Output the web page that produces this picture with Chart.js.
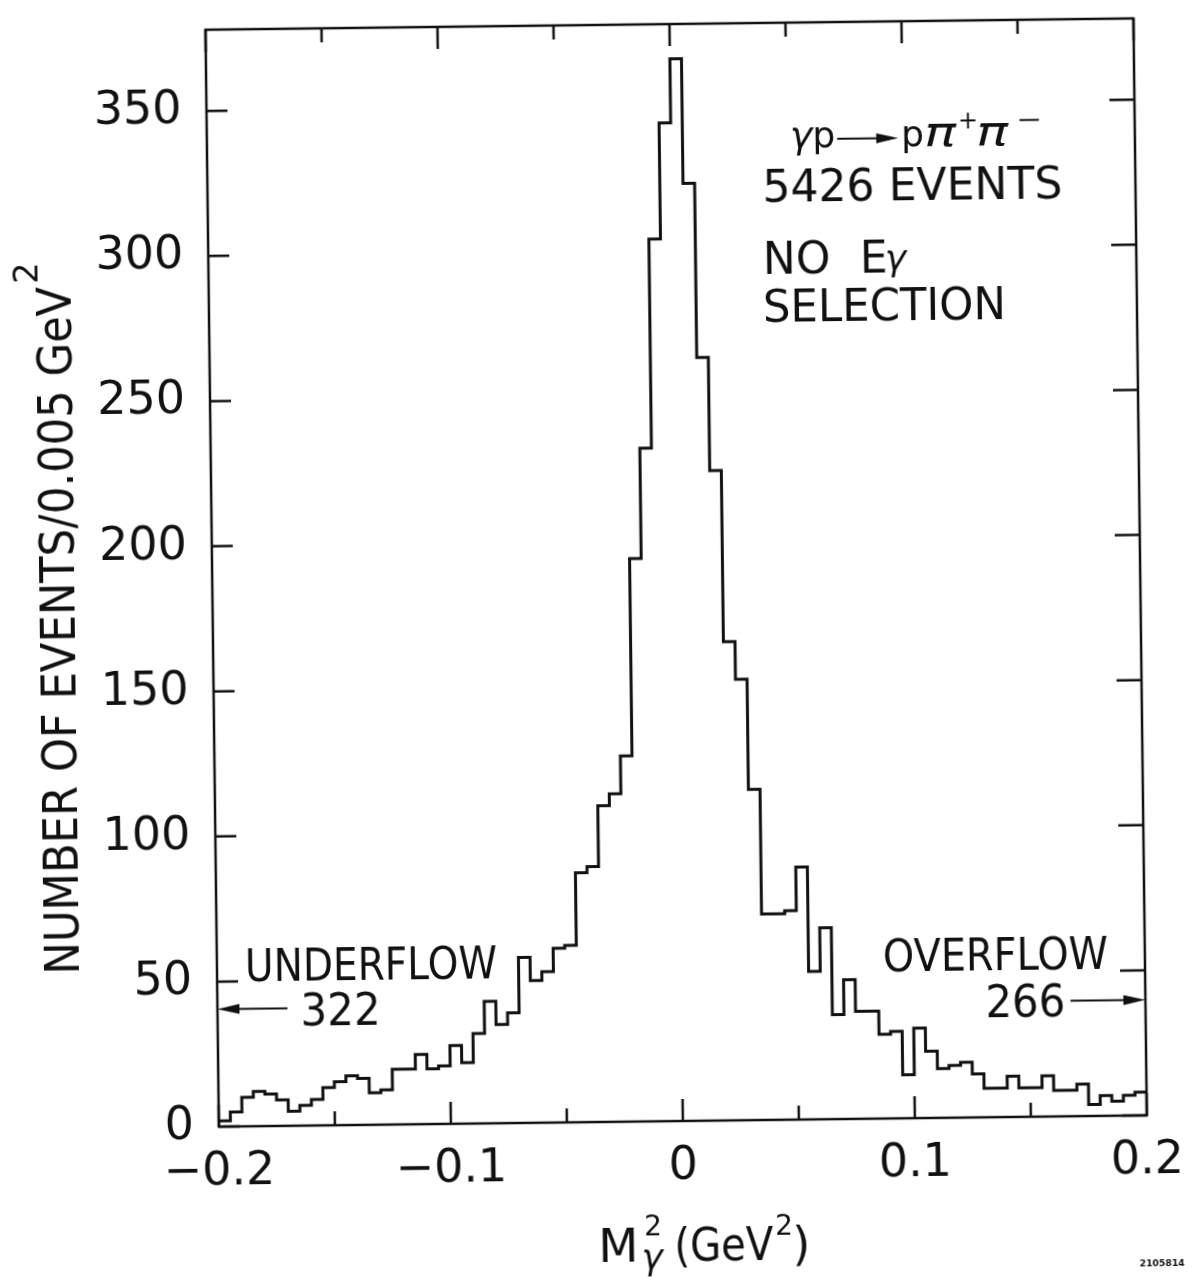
<!DOCTYPE html>
<html>
<head>
<meta charset="utf-8">
<script src="https://cdn.jsdelivr.net/npm/chart.js@4.4.1/dist/chart.umd.min.js"></script>
<style>
  html, body { margin: 0; padding: 0; background: #fff; }
  #sheet { width: 1196px; height: 1284px; transform: rotate(-0.7deg); }
  canvas { display: block; }
</style>
</head>
<body>
<div id="sheet"><canvas id="mm2" width="1196" height="1284"></canvas></div>
<script>
// missing-mass squared histogram, bins of 0.005 GeV^2 from -0.2 to 0.2
const BIN_START = -0.2;
const BIN_WIDTH = 0.005;
const counts = [
  2, 5, 10, 12, 11, 9, 5, 7, 9, 13,
  15, 17, 16, 11, 12, 19, 19, 24, 19, 20,
  27, 21, 31, 42, 34, 38, 57, 49, 52, 60,
  61, 86, 88, 109, 113, 126, 194, 232, 304, 344,
  366, 323, 263, 224, 165, 152, 114, 71, 71, 72,
  87, 51, 66, 36, 48, 37, 37, 29, 30, 15,
  31, 23, 17, 18, 19, 15, 10, 10, 14, 10,
  10, 14, 9, 9, 11, 4, 7, 5, 7, 8
];
const xLabelTicks = [-0.2, -0.1, 0, 0.1, 0.2];
const xMinorTicks = [-0.15, -0.05, 0.05, 0.15];
const yTicks = [0, 50, 100, 150, 200, 250, 300, 350];
const Y_MAX = 378;
const totalEvents = 5426;
const underflow = 322;
const overflow = 266;

const INK = '#111';
const FONT = '"DejaVu Sans", sans-serif';

// left bin edges, plus the closing edge so the last step reaches the frame
const points = counts.map((c, i) => ({ x: BIN_START + i * BIN_WIDTH, y: c }));
points.push({ x: BIN_START + counts.length * BIN_WIDTH, y: counts[counts.length - 1] });

function fmtX(v) {
  if (Math.abs(v) < 1e-9) return '0';
  return (v < 0 ? '\u2212' : '') + Math.abs(v).toFixed(1);
}

// draws text at a baseline, optionally squeezed to a given width; returns advance
function put(ctx, str, px, py, size, width, style) {
  ctx.font = (style ? style + ' ' : '') + size + 'px ' + FONT;
  const w = ctx.measureText(str).width;
  const sx = width ? width / w : 1;
  ctx.save();
  ctx.translate(px, py);
  ctx.scale(sx, 1);
  ctx.textAlign = 'left';
  ctx.textBaseline = 'alphabetic';
  ctx.fillText(str, 0, 0);
  ctx.restore();
  return w * sx;
}

function arrow(ctx, x0, y0, x1, y1) {
  const dir = Math.sign(x1 - x0);
  ctx.beginPath();
  ctx.moveTo(x0, y0);
  ctx.lineTo(x1 - dir * 14, y1);
  ctx.stroke();
  ctx.beginPath();
  ctx.moveTo(x1, y1);
  ctx.lineTo(x1 - dir * 22, y1 - 5);
  ctx.lineTo(x1 - dir * 22, y1 + 5);
  ctx.closePath();
  ctx.fill();
}

const frameAndNotes = {
  id: 'frameAndNotes',
  afterDraw(chart) {
    const { ctx, chartArea: a } = chart;
    const xs = chart.scales.x, ys = chart.scales.y;
    const X = (v) => xs.getPixelForValue(v);
    const Y = (v) => ys.getPixelForValue(v);

    ctx.save();
    ctx.strokeStyle = INK;
    ctx.fillStyle = INK;
    ctx.lineWidth = 2.5;
    ctx.lineCap = 'butt';

    // frame
    ctx.strokeRect(a.left, a.top, a.right - a.left, a.bottom - a.top);

    // inward tick marks on all four sides
    ctx.beginPath();
    xLabelTicks.forEach((v) => {
      const px = X(v);
      ctx.moveTo(px, a.bottom); ctx.lineTo(px, a.bottom - 22);
      ctx.moveTo(px, a.top); ctx.lineTo(px, a.top + 22);
    });
    xMinorTicks.forEach((v) => {
      const px = X(v);
      ctx.moveTo(px, a.bottom); ctx.lineTo(px, a.bottom - 14);
      ctx.moveTo(px, a.top); ctx.lineTo(px, a.top + 14);
    });
    yTicks.forEach((v) => {
      const py = Y(v);
      ctx.moveTo(a.left, py); ctx.lineTo(a.left + 21, py);
      ctx.moveTo(a.right, py); ctx.lineTo(a.right - 25, py);
    });
    ctx.stroke();

    // reaction label
    let cx = X(0.0513);
    const rb = Y(335);
    cx += put(ctx, '\u03b3', cx, rb, 38, null, 'italic');
    cx += put(ctx, 'p', cx, rb, 36);
    ctx.lineWidth = 2;
    arrow(ctx, cx + 2, rb - 8, cx + 63, rb - 8);
    cx += 66;
    cx += put(ctx, 'p', cx, rb, 36);
    cx += put(ctx, '\u03c0', cx, rb, 40, 32, 'italic');
    put(ctx, '+', cx + 2, rb - 17, 24);
    cx += 20;
    cx += put(ctx, '\u03c0', cx, rb, 40, 32, 'italic');
    put(ctx, '\u2212', cx + 8, rb - 17, 24, 26);

    put(ctx, totalEvents + ' EVENTS', X(0.0392), Y(316.3), 44, 300);
    const nx = X(0.039), nb = Y(291.5);
    put(ctx, 'NO', nx, nb, 44);
    put(ctx, 'E', nx + 97, nb, 44);
    put(ctx, '\u03b3', nx + 122, nb - 2, 36, null, 'italic');
    put(ctx, 'SELECTION', X(0.0388), Y(275.1), 44, 243);

    // underflow / overflow notes with arrows to the frame
    put(ctx, 'UNDERFLOW', X(-0.1879), Y(50), 44, 252);
    put(ctx, String(underflow), X(-0.1642), Y(34.3), 44, 80);
    arrow(ctx, X(-0.1698), Y(40.5), X(-0.2), Y(40.5));
    put(ctx, 'OVERFLOW', X(0.0871), Y(50.5), 44, 225);
    put(ctx, String(overflow), X(0.131), Y(34.3), 44, 80);
    arrow(ctx, X(0.1677), Y(39.8), X(0.2), Y(39.8));

    // x axis title: M with stacked 2 and gamma, then (GeV^2)
    const tb = 1262;
    put(ctx, 'M', 591, tb, 46, 40);
    put(ctx, '2', 637, tb - 26, 28);
    put(ctx, '\u03b3', 634, tb + 8, 36, null, 'italic');
    const gw = put(ctx, '(GeV', 667, tb, 46, 99);
    put(ctx, '2', 667 + gw + 2, tb - 25, 28);
    put(ctx, ')', 667 + gw + 19, tb, 46);

    // y axis title, reading upward
    ctx.save();
    ctx.translate(75, 968);
    ctx.rotate(-Math.PI / 2);
    const yw = put(ctx, 'NUMBER OF EVENTS/0.005 GeV', 0, 0, 48, 688);
    put(ctx, '2', yw + 3, -33, 34);
    ctx.restore();

    // figure number
    put(ctx, '2105814', 1132, 1273, 9, 45, 'bold');

    ctx.restore();
  }
};

new Chart(document.getElementById('mm2'), {
  type: 'line',
  data: {
    datasets: [{
      data: points,
      stepped: true,
      borderColor: INK,
      borderWidth: 3,
      pointRadius: 0,
      fill: false,
      tension: 0,
      borderJoinStyle: 'miter'
    }]
  },
  options: {
    responsive: false,
    animation: false,
    layout: { padding: { left: 0, right: 55, top: 25, bottom: 0 } },
    plugins: { legend: { display: false }, tooltip: { enabled: false } },
    scales: {
      x: {
        type: 'linear',
        min: -0.2,
        max: 0.2,
        afterBuildTicks: (s) => { s.ticks = xLabelTicks.map((v) => ({ value: v })); },
        afterFit: (s) => { s.height = 162; s.paddingLeft = 0; s.paddingRight = 0; },
        grid: { display: false, drawTicks: false },
        border: { display: false },
        ticks: {
          padding: 18,
          color: INK,
          maxRotation: 0,
          autoSkip: false,
          font: { family: FONT, size: 46 },
          callback: (v) => fmtX(v)
        }
      },
      y: {
        type: 'linear',
        min: 0,
        max: Y_MAX,
        afterBuildTicks: (s) => { s.ticks = yTicks.map((v) => ({ value: v })); },
        afterFit: (s) => { s.width = 213; s.paddingTop = 0; s.paddingBottom = 0; },
        grid: { display: false, drawTicks: false },
        border: { display: false },
        ticks: {
          padding: 25,
          color: INK,
          font: { family: FONT, size: 46 },
          callback: (v) => String(v)
        }
      }
    }
  },
  plugins: [frameAndNotes]
});
</script>
</body>
</html>
